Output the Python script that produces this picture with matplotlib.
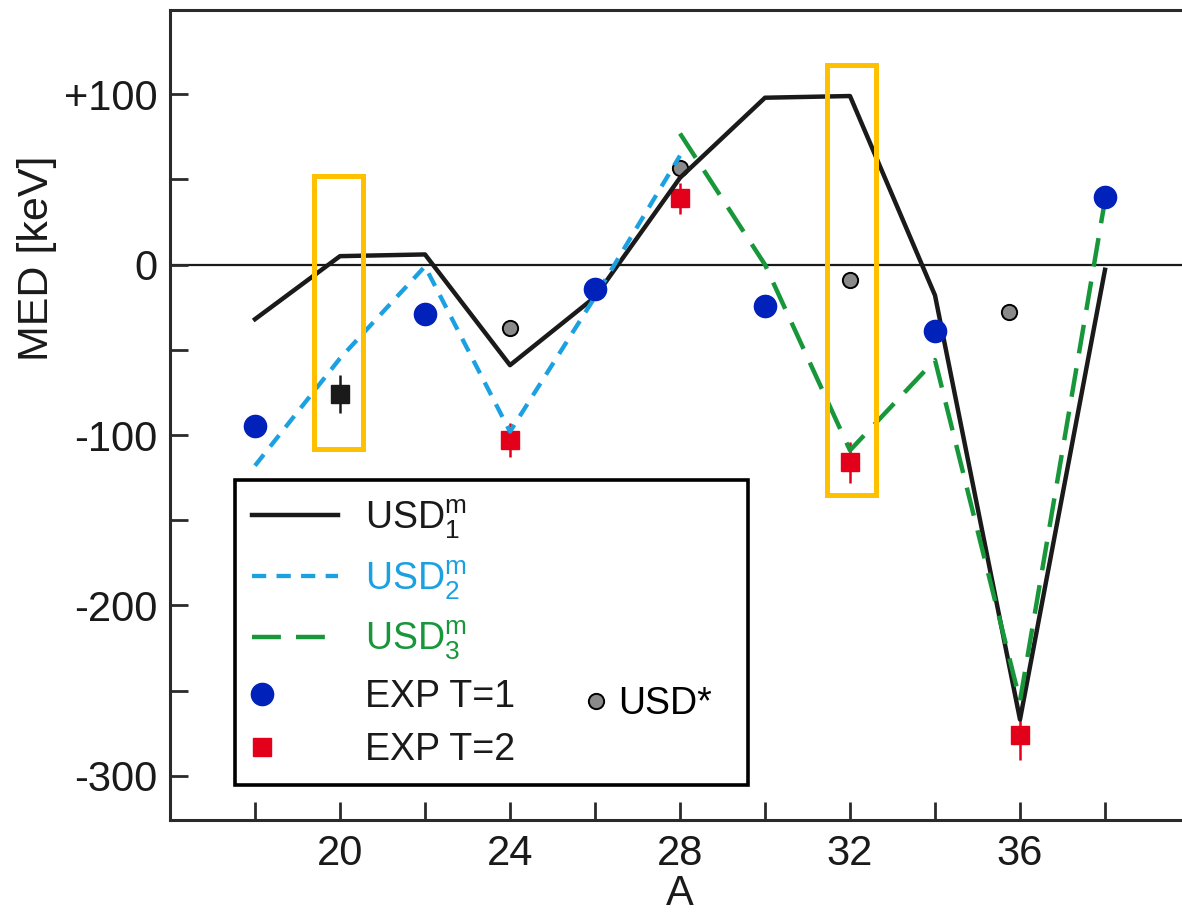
import matplotlib
matplotlib.use("Agg")
import matplotlib.pyplot as plt
from matplotlib.patches import Rectangle
from matplotlib.lines import Line2D
from matplotlib.legend_handler import HandlerLine2D
import numpy as np

plt.rcParams['font.family'] = ['Liberation Sans', 'DejaVu Sans']
plt.rcParams['mathtext.fontset'] = 'custom'
plt.rcParams['mathtext.rm'] = 'Liberation Sans'
plt.rcParams['mathtext.it'] = 'Liberation Sans:italic'
plt.rcParams['mathtext.bf'] = 'Liberation Sans:bold'

# Mirror energy differences (keV) versus mass number A
A_usd1 = [18, 20, 22, 24, 26, 28, 30, 32, 34, 36, 38]
med_usd1 = [-32, 5, 6, -59, -19, 51, 98, 99, -18, -267, -3]

A_usd2 = [18, 20, 22, 24, 26, 28]
med_usd2 = [-118, -55, -1, -98, -19, 64]

A_usd3 = [28, 30, 32, 34, 36, 38]
med_usd3 = [77, 0, -109, -56, -256, 38]

A_exp1 = [18, 22, 26, 30, 34, 38]
med_exp1 = [-95, -29, -14, -24, -39, 40]

A_exp2 = [24, 28, 32, 36]
med_exp2 = [-103, 39, -116, -276]
err_exp2 = [10, 9, 12, 15]

A_exp20 = [20]
med_exp20 = [-76]
err_exp20 = [11]

A_star = [24, 28, 32, 35.75]
med_star = [-37, 57, -9, -28]

# highlighted cases
box_A = [(19.4, 20.55), (31.45, 32.6)]
box_med = [(-108, 52), (-135, 117)]

x_ticks = [18, 20, 22, 24, 26, 28, 30, 32, 34, 36, 38]
x_ticklabels = ['', '20', '', '24', '', '28', '', '32', '', '36', '']
y_ticks = [-300, -250, -200, -150, -100, -50, 0, 50, 100]
y_ticklabels = ['-300', '', '-200', '', '-100', '', '0', '', '+100']

c_black = '#1a1a1a'
c_cyan = '#1ba1e2'
c_green = '#17973a'
c_blue = '#0022bb'
c_red = '#e2001a'
c_gray = '#8a8a8a'
c_orange = '#ffc000'
c_axis = '#2a2a2a'

fig = plt.figure(figsize=(11.82, 9.16), dpi=100)
ax = fig.add_axes([170 / 1182, 96 / 916, 1020 / 1182, 810 / 916])
ax.set_xlim(16, 40)
ax.set_ylim(-326, 149.5)

ax.axhline(0, color=c_black, lw=1.6, zorder=1)

# measured points
ax.errorbar(A_exp2, med_exp2, yerr=err_exp2, fmt='s', ms=13, color=c_red,
            ecolor=c_red, elinewidth=1.8, capsize=0, zorder=2)
ax.errorbar(A_exp20, med_exp20, yerr=err_exp20, fmt='s', ms=12.5, color=c_black,
            ecolor=c_black, elinewidth=1.8, capsize=0, zorder=2)
ax.plot(A_star, med_star, ls='none', marker='o', ms=11, mfc=c_gray, mec='black',
        mew=1.4, zorder=2)

# shell-model curves
cyan_dash = (3.3, 2.4)
green_dash = (6.5, 3.4)
ax.plot(A_usd1, med_usd1, color=c_black, lw=3.2, zorder=3)
ax.plot(A_usd2, med_usd2, color=c_cyan, lw=3.1, dashes=cyan_dash, zorder=3)
ax.plot(A_usd3, med_usd3, color=c_green, lw=3.2, dashes=green_dash, zorder=3)

ax.plot(A_exp1, med_exp1, ls='none', marker='o', ms=16, color=c_blue, zorder=4)

for (a0, a1), (m0, m1) in zip(box_A, box_med):
    ax.add_patch(Rectangle((a0, m0), a1 - a0, m1 - m0, fill=False,
                           ec=c_orange, lw=3.6, zorder=6))

# axes styling
for side in ['left', 'bottom', 'top', 'right']:
    ax.spines[side].set_linewidth(2.2)
    ax.spines[side].set_color(c_axis)
ax.set_xticks(x_ticks)
ax.set_xticklabels(x_ticklabels)
ax.set_yticks(y_ticks)
ax.set_yticklabels(y_ticklabels)
ax.tick_params(axis='both', direction='in', length=13, width=2, color=c_axis,
               labelsize=30, labelcolor='#1a1a1a')
ax.tick_params(axis='x', pad=10)
ax.tick_params(axis='y', pad=9)
ax.set_xlabel('A', fontsize=30, labelpad=0, color='#1a1a1a')
ax.set_ylabel('MED [keV]', fontsize=31, color='#1a1a1a')
ax.yaxis.set_label_coords(-0.111, 0.694)


class MarkerLeft(HandlerLine2D):
    def get_xdata(self, legend, xdescent, ydescent, width, height, fontsize):
        x = np.array([-xdescent + 0.12 * width])
        return x, x


h1 = Line2D([], [], color=c_black, lw=3.2)
h2 = Line2D([], [], color=c_cyan, lw=3.1, dashes=cyan_dash)
h3 = Line2D([], [], color=c_green, lw=3.2, dashes=green_dash)
hb = Line2D([], [], ls='none', marker='o', ms=16, color=c_blue)
hr = Line2D([], [], ls='none', marker='s', ms=13, color=c_red)
labels = [r'USD$_\mathrm{1}^\mathrm{m}$', r'USD$_\mathrm{2}^\mathrm{m}$',
          r'USD$_\mathrm{3}^\mathrm{m}$', 'EXP T=1', 'EXP T=2']
label_colors = [c_black, c_cyan, c_green, c_black, c_black]

leg = ax.legend([h1, h2, h3, hb, hr], labels, loc='upper left',
                bbox_to_anchor=(0.0637, 0.0, 0.503, 0.4198), mode='expand',
                borderaxespad=0, frameon=True, fancybox=False, framealpha=1,
                edgecolor='black', fontsize=27, handlelength=2.3,
                handletextpad=0.72, borderpad=0.45, labelspacing=0.45,
                handler_map={hb: MarkerLeft(), hr: MarkerLeft()})
leg.get_frame().set_linewidth(2.6)
for t, c in zip(leg.get_texts(), label_colors):
    t.set_color(c)
ax.add_artist(leg)

hs = Line2D([], [], ls='none', marker='o', ms=11, mfc=c_gray, mec='black', mew=1.4)
leg2 = ax.legend([hs], ['USD*'], loc='center left',
                 bbox_to_anchor=(0.4069, 0.1430), frameon=False, fontsize=27,
                 handlelength=0.6, handletextpad=0.28, borderpad=0,
                 borderaxespad=0)
leg2.set_zorder(7)

fig.savefig('out.png', dpi=100)
